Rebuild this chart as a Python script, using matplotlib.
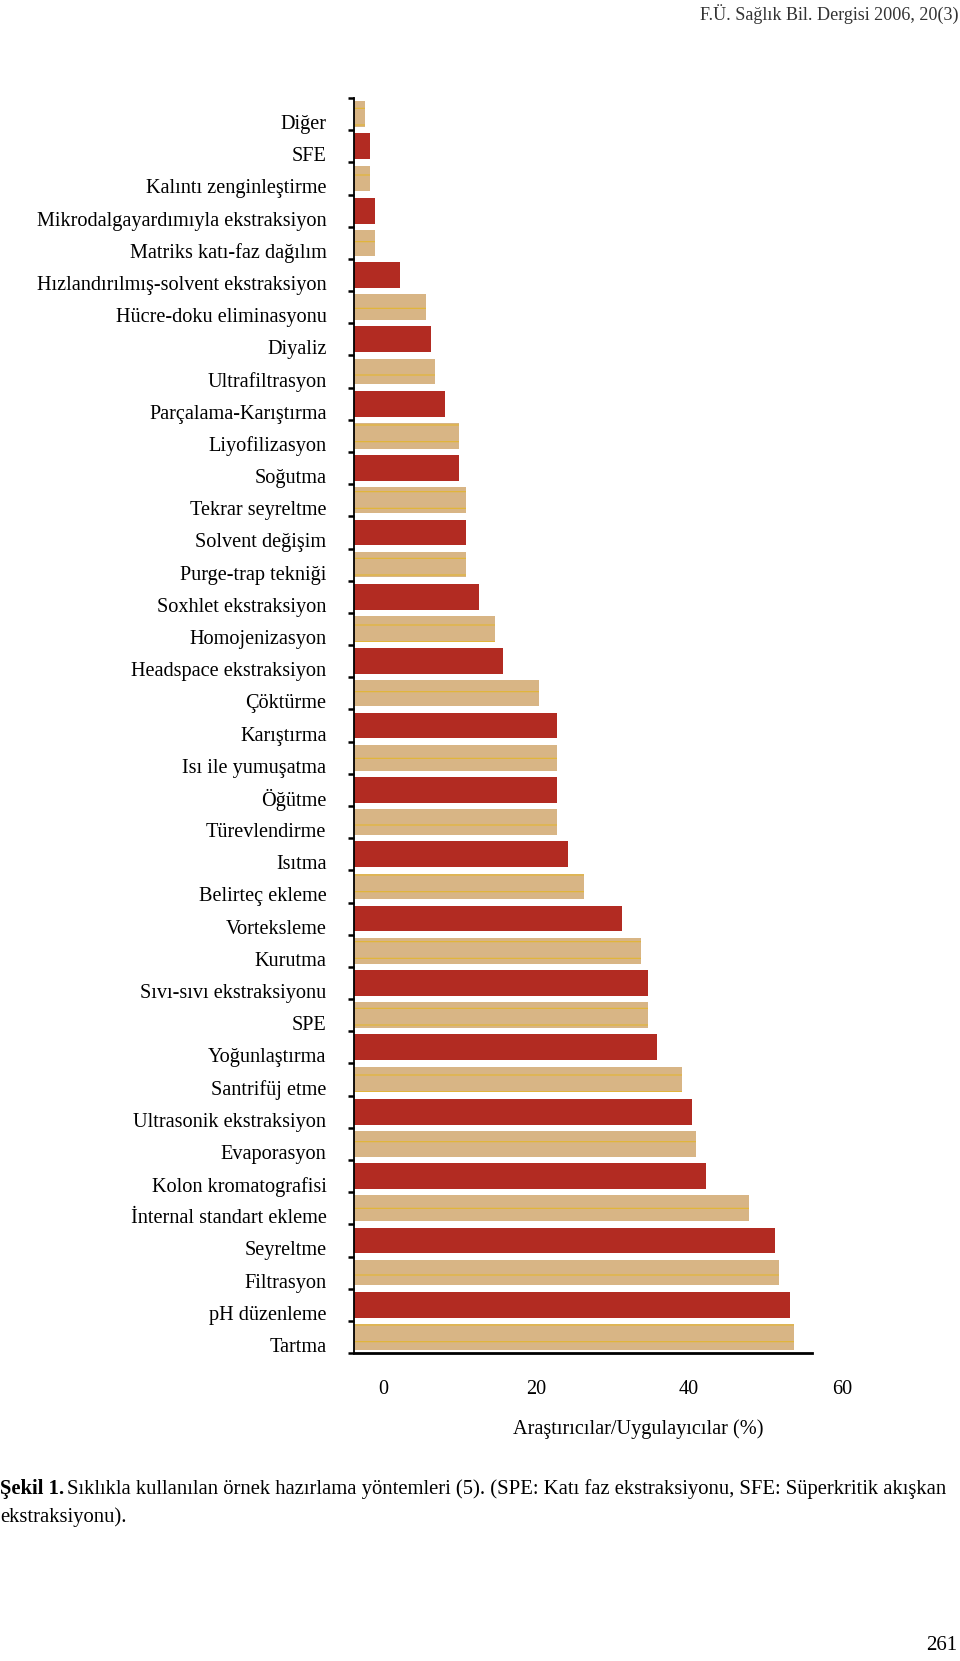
import numpy as np
import matplotlib
matplotlib.use("Agg")
import matplotlib.pyplot as plt
from matplotlib.transforms import ScaledTranslation, blended_transform_factory

plt.rcParams["font.family"] = ["Liberation Serif", "DejaVu Serif"]
plt.rcParams["hatch.linewidth"] = 0.8

# ── data (top to bottom, as in the figure) ───────────────────────────────────
methods = [
    "Diğer", "SFE", "Kalıntı zenginleştirme", "Mikrodalgayardımıyla ekstraksiyon",
    "Matriks katı-faz dağılım", "Hızlandırılmış-solvent ekstraksiyon",
    "Hücre-doku eliminasyonu", "Diyaliz", "Ultrafiltrasyon", "Parçalama-Karıştırma",
    "Liyofilizasyon", "Soğutma", "Tekrar seyreltme", "Solvent değişim",
    "Purge-trap tekniği", "Soxhlet ekstraksiyon", "Homojenizasyon",
    "Headspace ekstraksiyon", "Çöktürme", "Karıştırma", "Isı ile yumuşatma",
    "Öğütme", "Türevlendirme", "Isıtma", "Belirteç ekleme", "Vorteksleme",
    "Kurutma", "Sıvı-sıvı ekstraksiyonu", "SPE", "Yoğunlaştırma", "Santrifüj etme",
    "Ultrasonik ekstraksiyon", "Evaporasyon", "Kolon kromatografisi",
    "İnternal standart ekleme", "Seyreltme", "Filtrasyon", "pH düzenleme", "Tartma",
]
percent = [
    1.4, 2.0, 2.0, 2.7, 2.7, 6.0, 9.4, 10.1, 10.6, 11.9,
    13.7, 13.7, 14.6, 14.6, 14.6, 16.3, 18.4, 19.5, 24.2, 26.5,
    26.5, 26.5, 26.5, 28.0, 30.1, 35.0, 37.5, 38.4, 38.4, 39.6,
    42.9, 44.2, 44.7, 46.0, 51.6, 55.0, 55.6, 57.0, 57.5,
]
tick_values = [0, 20, 40, 60]
TICK_SHIFT = 3.8   # printed tick labels sit a bit right of the bar origin

RED = "#B22B22"
TAN = "#D8B585"

fig = plt.figure(figsize=(9.6, 16.61), dpi=100)
ax = fig.add_axes([0.369, 0.1854, 0.477, 0.7556])

n = len(methods)
y = np.arange(n)
is_tan = [(n - 1 - i) % 2 == 0 for i in range(n)]
for i in range(n):
    if is_tan[i]:
        ax.barh(y[i], percent[i], height=0.8, color=TAN, edgecolor="#E3B632",
                linewidth=0, hatch="-", zorder=2)
    else:
        ax.barh(y[i], percent[i], height=0.8, color=RED, edgecolor="#8E1E18",
                linewidth=0, hatch=":", zorder=2)

ax.set_ylim(n - 0.5, -0.5)
ax.set_xlim(0, 59.9)

ax.set_yticks(y)
ax.set_yticklabels(methods, fontsize=14.6)
ax.set_yticks(np.arange(-0.5, n, 1.0), minor=True)
ax.tick_params(axis="y", which="major", length=0, pad=20)
ax.tick_params(axis="y", which="minor", length=4.5, width=1.8, direction="out")
shift = ScaledTranslation(0, -0.08, fig.dpi_scale_trans)
for lab in ax.get_yticklabels():
    lab.set_transform(lab.get_transform() + shift)

ax.set_xticks([])
trans = blended_transform_factory(ax.transData, ax.transAxes)
for v in tick_values:
    ax.text(v + TICK_SHIFT, -0.029, str(v), transform=trans, ha="center",
            va="center", fontsize=14.6, clip_on=False)
ax.text(0.62, -0.061, "Araştırıcılar/Uygulayıcılar (%)", transform=ax.transAxes,
        ha="center", va="center", fontsize=14.6)

for side in ["top", "right"]:
    ax.spines[side].set_visible(False)
ax.spines["left"].set_linewidth(1.3)
ax.spines["bottom"].set_linewidth(2.0)

# page furniture
fig.text(0.998, 0.9915, "F.Ü. Sağlık Bil. Dergisi 2006, 20(3)", ha="right",
         va="center", fontsize=13.1, color="#333333")
fig.text(0.0, 0.1035, "Şekil 1.", ha="left", va="center", fontsize=14.9,
         fontweight="bold")
fig.text(0.070, 0.1035,
         "Sıklıkla kullanılan örnek hazırlama yöntemleri (5). (SPE: Katı faz "
         "ekstraksiyonu, SFE: Süperkritik akışkan",
         ha="left", va="center", fontsize=14.9)
fig.text(0.0, 0.0865, "ekstraksiyonu).", ha="left", va="center", fontsize=14.9)
fig.text(0.997, 0.0096, "261", ha="right", va="center", fontsize=15)

fig.savefig("out.png", dpi=100)
